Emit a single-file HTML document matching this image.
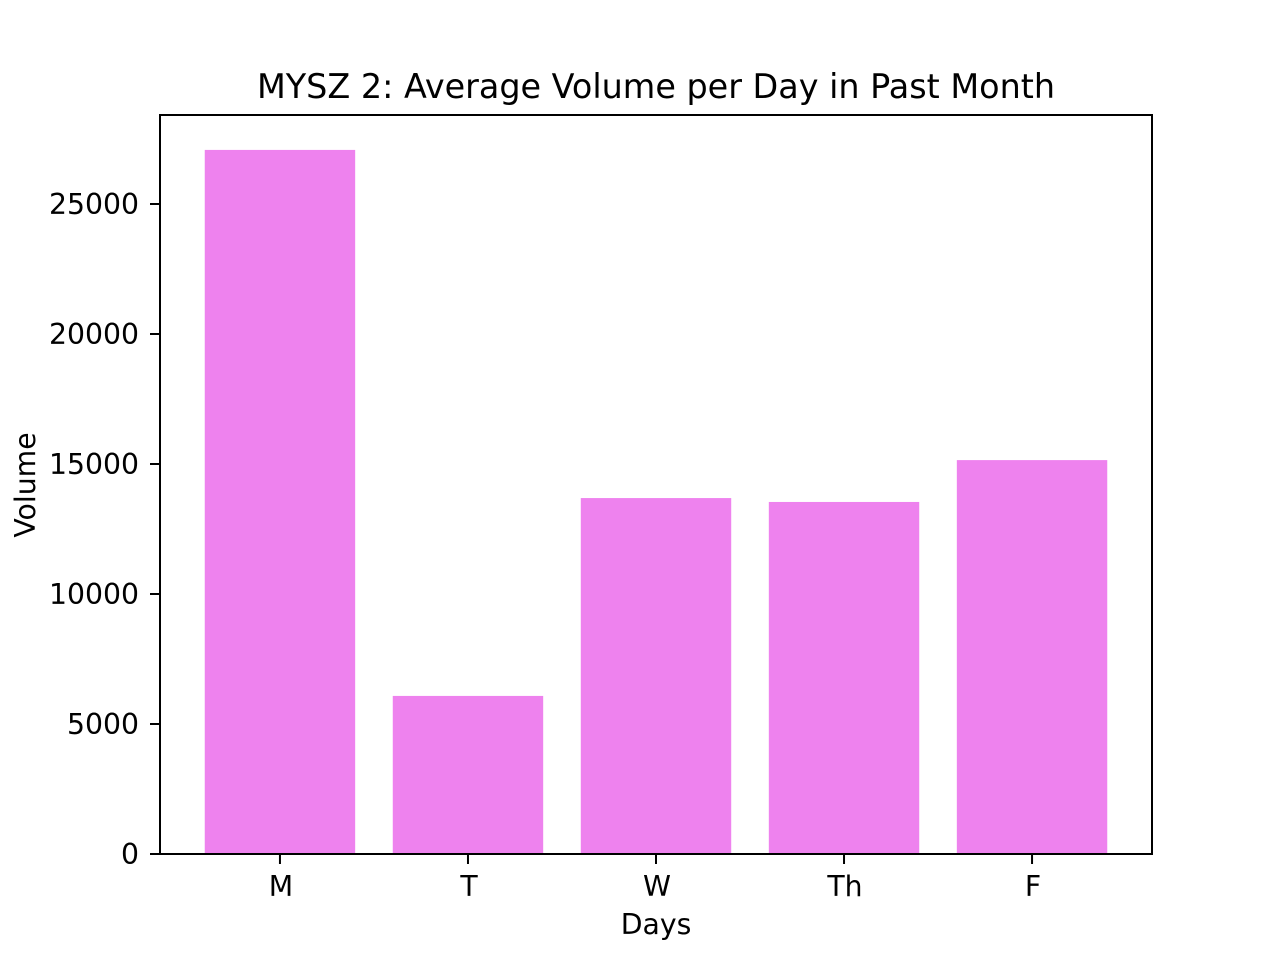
<!DOCTYPE html>
<html><head><meta charset="utf-8"><style>
html,body{margin:0;padding:0;background:#fff;}
svg{display:block;font-family:"DejaVu Sans","Liberation Sans",sans-serif;}
</style></head><body>
<svg id="chart" width="1280" height="960" viewBox="0 0 1280 960">
<rect x="0" y="0" width="1280" height="960" fill="#fff"/>
<text x="656" y="98" text-anchor="middle" font-size="33.4" fill="#000">MYSZ 2: Average Volume per Day in Past Month</text>
<g id="bars"></g>
<g id="yticks"></g>
<g id="xticks"></g>
<rect x="160" y="115" width="992" height="739" fill="none" stroke="#000" stroke-width="2"/>
<text x="656" y="934" text-anchor="middle" font-size="28.3" fill="#000">Days</text>
<text x="0" y="0" transform="translate(35,485) rotate(-90)" text-anchor="middle" font-size="28.3" fill="#000">Volume</text>
</svg>
<script>
const categories = ["M","T","W","Th","F"];
const volumes = [27080, 6080, 13690, 13540, 15150];
const yTickValues = [0,5000,10000,15000,20000,25000];
const yTickLabels = ["0","5000","10000","15000","20000","25000"];

const L=160,R=1152,T=115,B=854;
const xMin=-0.638,xMax=4.638,yMax=28423;
const xs=v=>L+(v-xMin)/(xMax-xMin)*(R-L);
const ys=v=>B-v/yMax*(B-T);
const NS="http://www.w3.org/2000/svg";
const bw=0.8*(R-L)/(xMax-xMin);
const gb=document.getElementById('bars'),gy=document.getElementById('yticks'),gx=document.getElementById('xticks');
categories.forEach((c,i)=>{
  const r=document.createElementNS(NS,'rect');
  r.setAttribute('x',xs(i)-bw/2);r.setAttribute('width',bw);
  r.setAttribute('y',ys(volumes[i]));r.setAttribute('height',B-ys(volumes[i]));
  r.setAttribute('fill','#EE82EE');
  
  
  gb.appendChild(r);
  const l=document.createElementNS(NS,'line');
  l.setAttribute('x1',xs(i));l.setAttribute('x2',xs(i));l.setAttribute('y1',B);l.setAttribute('y2',B+10);
  l.setAttribute('stroke','#000');l.setAttribute('stroke-width','2');
  
  
  gx.appendChild(l);
  const t=document.createElementNS(NS,'text');
  t.setAttribute('x',xs(i)+1);t.setAttribute('y',B+42);t.setAttribute('text-anchor','middle');t.setAttribute('font-size','28.3');
  t.textContent=c;
  
  
  gx.appendChild(t);
});
yTickValues.forEach((v,i)=>{
  const y=ys(v);
  const l=document.createElementNS(NS,'line');
  l.setAttribute('x1',L-10);l.setAttribute('x2',L);l.setAttribute('y1',y);l.setAttribute('y2',y);
  l.setAttribute('stroke','#000');l.setAttribute('stroke-width','2');
  
  
  gy.appendChild(l);
  const t=document.createElementNS(NS,'text');
  t.setAttribute('x',L-21);t.setAttribute('y',y+10);t.setAttribute('text-anchor','end');t.setAttribute('font-size','28.3');
  t.textContent=yTickLabels[i];
  
  
  gy.appendChild(t);
});
</script>
</body></html>
